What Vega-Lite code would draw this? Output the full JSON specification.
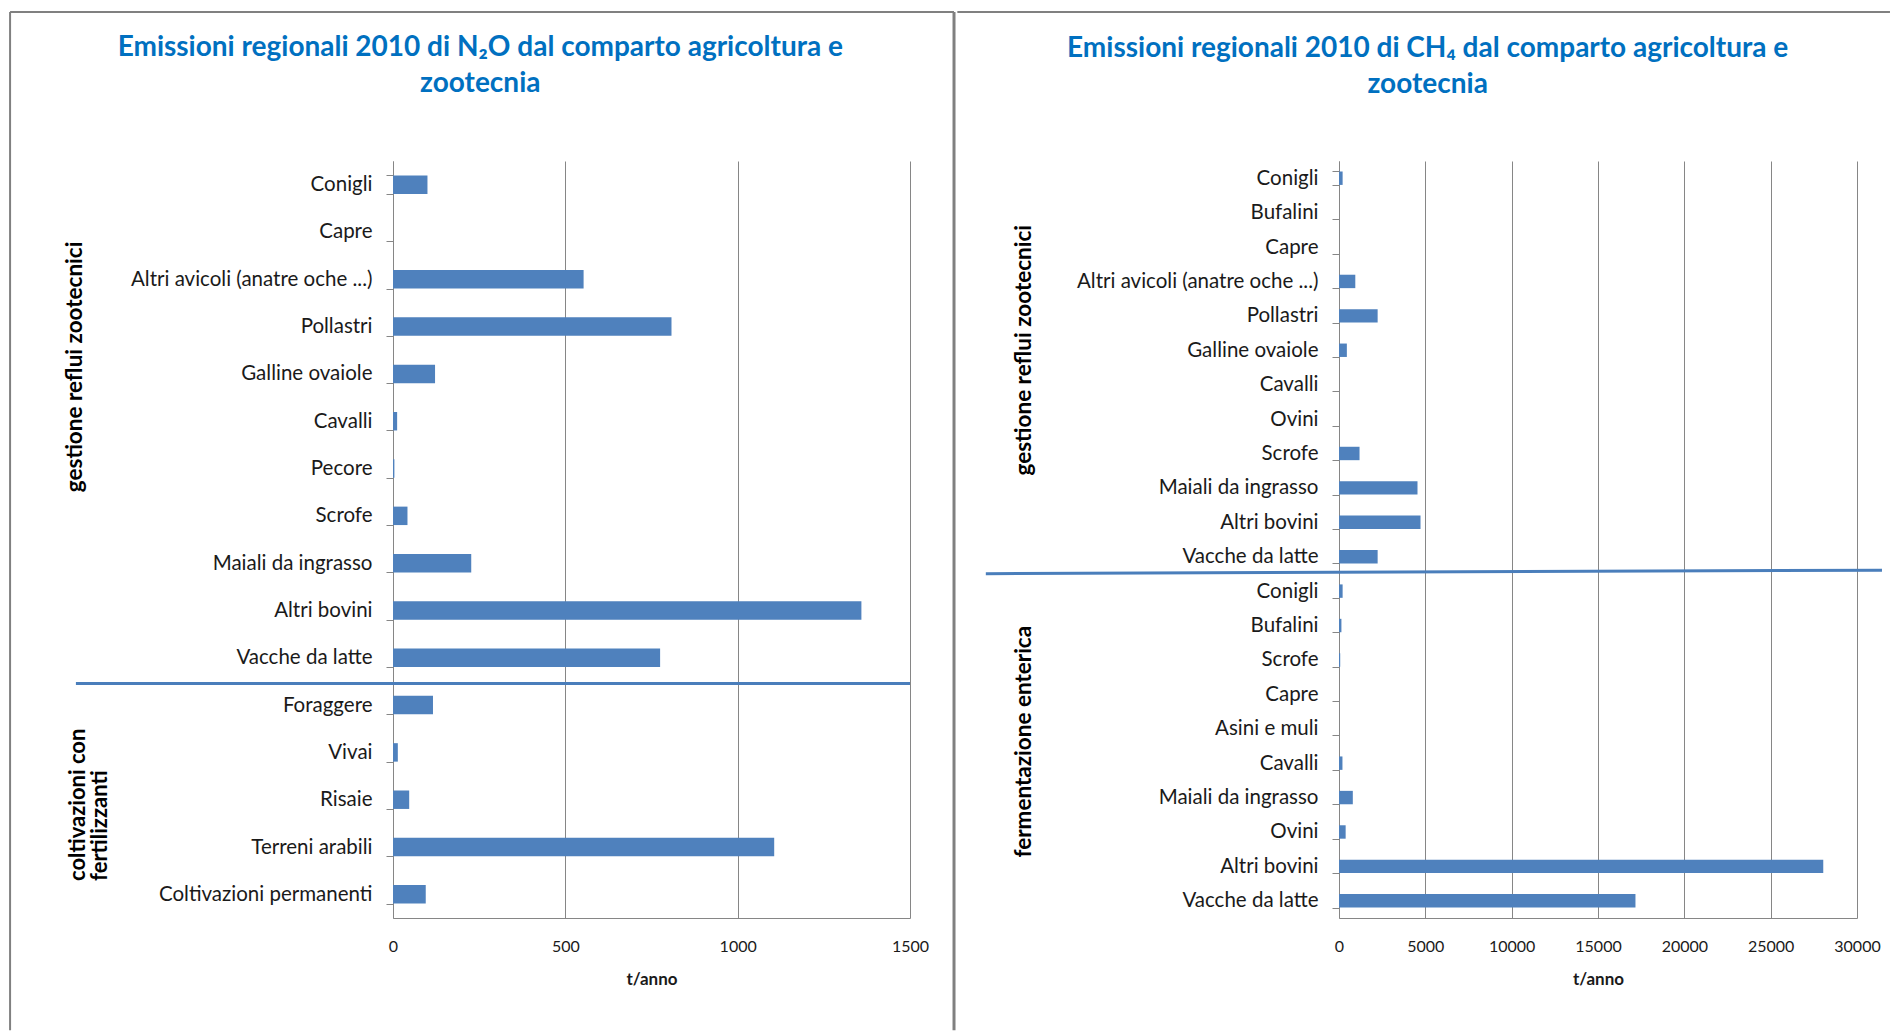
{
  "$schema": "https://vega.github.io/schema/vega-lite/v6.json",
  "background": "white",
  "padding": {"left": 9, "top": 10, "right": 0, "bottom": 0},
  "spacing": 0,
  "config": {
    "font": "Lato",
    "view": {"stroke": null},
    "axisY": {
      "title": null,
      "labelFont": "Lato",
      "labelFontSize": 20.5,
      "labelColor": "#1a1a1a",
      "labelLimit": 400,
      "labelPadding": 14,
      "tickBand": "extent",
      "tickSize": 7,
      "tickColor": "#868686",
      "domainColor": "#868686",
      "grid": false
    },
    "axisX": {
      "labelFont": "Lato",
      "labelFontSize": 16,
      "labelColor": "#1a1a1a",
      "labelFlush": false,
      "ticks": false,
      "tickSize": 0,
      "labelPadding": 20,
      "grid": true,
      "gridColor": "#868686",
      "domainColor": "#868686",
      "titleFont": "Lato",
      "titleFontSize": 17,
      "titleFontWeight": "bold",
      "titleColor": "#1a1a1a",
      "titlePadding": 17
    },
    "title": {
      "font": "Lato",
      "fontSize": 28,
      "fontWeight": "bold",
      "color": "#0070C0",
      "lineHeight": 36,
      "anchor": "middle",
      "frame": "bounds",
      "offset": -88
    }
  },
  "hconcat": [
    {
      "title": {"text": ["Emissioni regionali 2010 di N₂O dal comparto agricoltura e", "zootecnia"], "dx": -2},
      "width": 517,
      "height": 757,
      "data": {
        "values": [
          {"gruppo": "gestione reflui zootecnici", "categoria": "Conigli", "valore": 100},
          {"gruppo": "gestione reflui zootecnici", "categoria": "Capre", "valore": 0},
          {"gruppo": "gestione reflui zootecnici", "categoria": "Altri avicoli (anatre oche ...)", "valore": 553},
          {"gruppo": "gestione reflui zootecnici", "categoria": "Pollastri", "valore": 808},
          {"gruppo": "gestione reflui zootecnici", "categoria": "Galline ovaiole", "valore": 122},
          {"gruppo": "gestione reflui zootecnici", "categoria": "Cavalli", "valore": 12},
          {"gruppo": "gestione reflui zootecnici", "categoria": "Pecore", "valore": 4},
          {"gruppo": "gestione reflui zootecnici", "categoria": "Scrofe", "valore": 42},
          {"gruppo": "gestione reflui zootecnici", "categoria": "Maiali da ingrasso", "valore": 227},
          {"gruppo": "gestione reflui zootecnici", "categoria": "Altri bovini", "valore": 1359},
          {"gruppo": "gestione reflui zootecnici", "categoria": "Vacche da latte", "valore": 775},
          {"gruppo": "coltivazioni con\nfertilizzanti", "categoria": "Foraggere", "valore": 116},
          {"gruppo": "coltivazioni con\nfertilizzanti", "categoria": "Vivai", "valore": 14},
          {"gruppo": "coltivazioni con\nfertilizzanti", "categoria": "Risaie", "valore": 47},
          {"gruppo": "coltivazioni con\nfertilizzanti", "categoria": "Terreni arabili", "valore": 1106},
          {"gruppo": "coltivazioni con\nfertilizzanti", "categoria": "Coltivazioni permanenti", "valore": 95}
        ]
      },
      "layer": [
        {
          "mark": {"type": "bar", "color": "#4F81BD"},
          "encoding": {
            "y": {"field": "categoria", "type": "nominal", "sort": null, "scale": {"paddingInner": 0.61, "paddingOuter": 0.305}},
            "x": {"field": "valore", "type": "quantitative", "title": "t/anno", "scale": {"domain": [0, 1500], "nice": false}, "axis": {"values": [0, 500, 1000, 1500], "format": "d"}}
          }
        },
        {
          "transform": [{"filter": "datum.gruppo == 'gestione reflui zootecnici' && datum.categoria == 'Vacche da latte'"}],
          "mark": {"type": "rule", "color": "#4A7EBB", "strokeWidth": 3, "yOffset": 25.6},
          "encoding": {
            "y": {"field": "categoria", "type": "nominal", "sort": null},
            "x": {"datum": -920, "type": "quantitative"},
            "x2": {"datum": 1500}
          }
        },
        {
          "transform": [{"filter": "datum.categoria == 'Conigli'"}],
          "mark": {"type": "rule", "color": "#808080", "strokeWidth": 2, "yOffset": -172.65},
          "encoding": {
            "y": {"field": "categoria", "type": "nominal", "sort": null},
            "x": {"datum": -1111, "type": "quantitative"},
            "x2": {"datum": 1627.7}
          }
        },
        {
          "transform": [{"filter": "datum.categoria == 'Coltivazioni permanenti'"}],
          "mark": {"type": "rule", "color": "#808080", "strokeWidth": 2, "yOffset": -882.35, "y2Offset": 136},
          "encoding": {
            "y": {"field": "categoria", "type": "nominal", "sort": null},
            "y2": {"field": "categoria"},
            "x": {"datum": -1111, "type": "quantitative"}
          }
        },
        {
          "transform": [{"filter": "datum.categoria == 'Coltivazioni permanenti'"}],
          "mark": {"type": "rule", "color": "#808080", "strokeWidth": 3, "yOffset": -882.35, "y2Offset": 136},
          "encoding": {
            "y": {"field": "categoria", "type": "nominal", "sort": null},
            "y2": {"field": "categoria"},
            "x": {"datum": 1627.7, "type": "quantitative"}
          }
        },
        {
          "transform": [{"filter": "datum.categoria == 'Galline ovaiole'"}],
          "mark": {"type": "text", "angle": 270, "align": "center", "baseline": "middle", "dx": 7, "font": "Lato", "fontWeight": "bold", "fontSize": 22.5, "color": "#000000"},
          "encoding": {
            "y": {"field": "categoria", "type": "nominal", "sort": null},
            "x": {"datum": -922.6, "type": "quantitative"},
            "text": {"field": "gruppo"}
          }
        },
        {
          "transform": [{"filter": "datum.categoria == 'Coltivazioni permanenti'"}],
          "mark": {"type": "text", "angle": 270, "align": "left", "baseline": "middle", "dx": 13.4, "lineBreak": "\n", "lineHeight": 22, "font": "Lato", "fontWeight": "bold", "fontSize": 22, "color": "#000000"},
          "encoding": {
            "y": {"field": "categoria", "type": "nominal", "sort": null},
            "x": {"datum": -914, "type": "quantitative"},
            "text": {"field": "gruppo"}
          }
        }
      ]
    },
    {
      "title": {"text": ["Emissioni regionali 2010 di CH₄ dal comparto agricoltura e", "zootecnia"], "dx": 4},
      "width": 518,
      "height": 757,
      "data": {
        "values": [
          {"gruppo": "gestione reflui zootecnici", "categoria": "Conigli", "valore": 210},
          {"gruppo": "gestione reflui zootecnici", "categoria": "Bufalini", "valore": 0},
          {"gruppo": "gestione reflui zootecnici", "categoria": "Capre", "valore": 0},
          {"gruppo": "gestione reflui zootecnici", "categoria": "Altri avicoli (anatre  oche  ...)", "valore": 944},
          {"gruppo": "gestione reflui zootecnici", "categoria": "Pollastri", "valore": 2238},
          {"gruppo": "gestione reflui zootecnici", "categoria": "Galline ovaiole", "valore": 455},
          {"gruppo": "gestione reflui zootecnici", "categoria": "Cavalli", "valore": 0},
          {"gruppo": "gestione reflui zootecnici", "categoria": "Ovini", "valore": 0},
          {"gruppo": "gestione reflui zootecnici", "categoria": "Scrofe", "valore": 1189},
          {"gruppo": "gestione reflui zootecnici", "categoria": "Maiali da ingrasso", "valore": 4546},
          {"gruppo": "gestione reflui zootecnici", "categoria": "Altri bovini", "valore": 4721},
          {"gruppo": "gestione reflui zootecnici", "categoria": "Vacche da latte", "valore": 2238},
          {"gruppo": "fermentazione enterica", "categoria": "Conigli\u200b", "valore": 210},
          {"gruppo": "fermentazione enterica", "categoria": "Bufalini\u200b", "valore": 140},
          {"gruppo": "fermentazione enterica", "categoria": "Scrofe\u200b", "valore": 70},
          {"gruppo": "fermentazione enterica", "categoria": "Capre\u200b", "valore": 0},
          {"gruppo": "fermentazione enterica", "categoria": "Asini e muli", "valore": 0},
          {"gruppo": "fermentazione enterica", "categoria": "Cavalli\u200b", "valore": 200},
          {"gruppo": "fermentazione enterica", "categoria": "Maiali da ingrasso\u200b", "valore": 800},
          {"gruppo": "fermentazione enterica", "categoria": "Ovini\u200b", "valore": 385},
          {"gruppo": "fermentazione enterica", "categoria": "Altri bovini\u200b", "valore": 28046},
          {"gruppo": "fermentazione enterica", "categoria": "Vacche da latte\u200b", "valore": 17170}
        ]
      },
      "layer": [
        {
          "mark": {"type": "bar", "color": "#4F81BD"},
          "encoding": {
            "y": {"field": "categoria", "type": "nominal", "sort": null, "scale": {"paddingInner": 0.61, "paddingOuter": 0.305}},
            "x": {"field": "valore", "type": "quantitative", "title": "t/anno", "scale": {"domain": [0, 30000], "nice": false}, "axis": {"values": [0, 5000, 10000, 15000, 20000, 25000, 30000], "format": "d"}}
          }
        },
        {
          "transform": [{"filter": "datum.gruppo == 'gestione reflui zootecnici' && datum.categoria == 'Vacche da latte'"}],
          "mark": {"type": "rule", "color": "#4A7EBB", "strokeWidth": 3, "yOffset": 17, "y2Offset": 13.5},
          "encoding": {
            "y": {"field": "categoria", "type": "nominal", "sort": null},
            "y2": {"field": "categoria"},
            "x": {"datum": -20454, "type": "quantitative"},
            "x2": {"datum": 31447}
          }
        },
        {
          "transform": [{"filter": "datum.categoria == 'Conigli'"}],
          "mark": {"type": "rule", "color": "#808080", "strokeWidth": 2, "yOffset": -166.2},
          "encoding": {
            "y": {"field": "categoria", "type": "nominal", "sort": null},
            "x": {"datum": -22103, "type": "quantitative"},
            "x2": {"datum": 31910}
          }
        },
        {
          "transform": [{"filter": "datum.categoria == 'Galline ovaiole'"}],
          "mark": {"type": "text", "angle": 270, "align": "center", "baseline": "middle", "font": "Lato", "fontWeight": "bold", "fontSize": 22.5, "color": "#000000"},
          "encoding": {
            "y": {"field": "categoria", "type": "nominal", "sort": null},
            "x": {"datum": -18255, "type": "quantitative"},
            "text": {"field": "gruppo"}
          }
        },
        {
          "transform": [{"filter": "datum.categoria == 'Asini e muli'"}],
          "mark": {"type": "text", "angle": 270, "align": "center", "baseline": "middle", "dx": -13, "font": "Lato", "fontWeight": "bold", "fontSize": 22.5, "color": "#000000"},
          "encoding": {
            "y": {"field": "categoria", "type": "nominal", "sort": null},
            "x": {"datum": -18255, "type": "quantitative"},
            "text": {"field": "gruppo"}
          }
        }
      ]
    }
  ]
}
